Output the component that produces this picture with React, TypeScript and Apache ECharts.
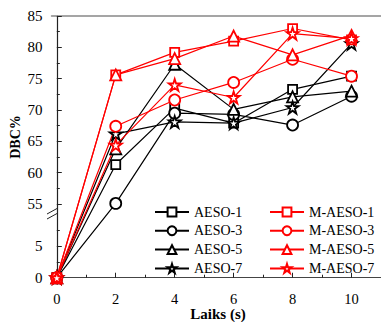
import React, { useEffect, useRef } from "react";
import * as echarts from "echarts";

const times = [0, 2, 4, 6, 8, 10];
const aeso1 = [0, 61.3, 70.3, 67.9, 73.3, 75.4];
const aeso3 = [0, 55.1, 69.5, 69.3, 67.6, 72.2];
const aeso5 = [0, 63.8, 77.3, 70.1, 72.1, 73.0];
const aeso7 = [0, 66.2, 68.1, 67.9, 70.4, 80.6];
const maeso1 = [0, 75.6, 79.2, 81.0, 83.0, 81.2];
const maeso3 = [0, 67.4, 71.6, 74.4, 78.1, 75.4];
const maeso5 = [0, 75.6, 78.2, 81.8, 78.8, 81.9];
const maeso7 = [0, 64.4, 74.0, 72.0, 82.2, 81.4];
const yTicks = [0, 5, 55, 60, 65, 70, 75, 80, 85];
const yMinor = [2.5, 7.5, 57.5, 62.5, 67.5, 72.5, 77.5, 82.5];
const xTicks = [0, 2, 4, 6, 8, 10];
const xMinor = [1, 3, 5, 7, 9];

// broken y-axis: values >= 30 are shifted down
const OFFSET = 43.24;
const tr = (v: number) => (v >= 30 ? v - OFFSET : v);
const inv = (v: number) => (v > 10 ? Math.round(v + OFFSET) : Math.round(v));

const STAR =
  "path://M50,2 L61,36 L97,36 L68,57 L79,92 L50,71 L21,92 L32,57 L3,36 L39,36 Z";
const FONT = "Liberation Serif";

export default function App() {
  const ref = useRef<HTMLDivElement>(null);
  useEffect(() => {
    if (!ref.current) return;
    const chart = echarts.init(ref.current, undefined, { renderer: "svg" });
    const mk = (name: string, data: number[], color: string, symbol: string, size: number) => ({
      name,
      type: "line",
      data: data.map((v, i) => [times[i], tr(v)]),
      symbol,
      symbolSize: size,
      showAllSymbol: true,
      lineStyle: { color, width: 1.2 },
      itemStyle: { color: "#fff", borderColor: color, borderWidth: 1.8 },
      emphasis: { disabled: true },
      xAxisIndex: 0,
      yAxisIndex: 0,
    });
    const series = [
      mk("AESO-1", aeso1, "#000", "rect", 9),
      mk("AESO-3", aeso3, "#000", "circle", 11),
      mk("AESO-5", aeso5, "#000", "triangle", 11),
      mk("AESO-7", aeso7, "#000", STAR, 12),
      mk("M-AESO-1", maeso1, "#ff0000", "rect", 9),
      mk("M-AESO-3", maeso3, "#ff0000", "circle", 11),
      mk("M-AESO-5", maeso5, "#ff0000", "triangle", 11),
      mk("M-AESO-7", maeso7, "#ff0000", STAR, 12),
    ];
    const legendBase = {
      orient: "vertical",
      top: 205,
      padding: 0,
      itemWidth: 34,
      itemHeight: 11,
      itemGap: 4.8,
      textStyle: { fontFamily: FONT, fontSize: 14, color: "#000", lineHeight: 14 },
      selectedMode: false,
    };
    chart.setOption({
      animation: false,
      grid: { left: 51.5, right: -3.6, top: 16, bottom: 38, containLabel: false },
      xAxis: [
        {
          type: "value",
          min: -0.18,
          max: 11,
          axisLine: { show: true, lineStyle: { color: "#444", width: 1.2 } },
          axisTick: { show: true, inside: true, length: 5, customValues: xTicks, lineStyle: { color: "#222" } },
          axisLabel: { customValues: xTicks, fontFamily: FONT, fontSize: 14.5, color: "#000", margin: 7 },
          splitLine: { show: false },
        },
        {
          type: "value",
          min: -0.18,
          max: 11,
          position: "bottom",
          axisLine: { show: false },
          axisTick: { show: true, inside: true, length: 3, customValues: xMinor, lineStyle: { color: "#222" } },
          axisLabel: { show: false },
          splitLine: { show: false },
        },
        {
          type: "value",
          min: -0.18,
          max: 11,
          position: "top",
          axisLine: { show: true, lineStyle: { color: "#888", width: 1.5 } },
          axisTick: { show: false },
          axisLabel: { show: false },
          splitLine: { show: false },
        },
      ],
      yAxis: [
        {
          type: "value",
          min: -1,
          max: tr(85),
          axisLine: { show: true, lineStyle: { color: "#222", width: 1.2 } },
          axisTick: { show: true, inside: true, length: 5, customValues: yTicks.map(tr), lineStyle: { color: "#222" } },
          axisLabel: {
            customValues: yTicks.map(tr),
            formatter: (v: number) => String(inv(v)),
            fontFamily: FONT,
            fontSize: 15,
            color: "#000",
            margin: 9,
          },
          splitLine: { show: false },
        },
        {
          type: "value",
          min: -1,
          max: tr(85),
          position: "left",
          axisLine: { show: false },
          axisTick: { show: true, inside: true, length: 3, customValues: yMinor.map(tr), lineStyle: { color: "#222" } },
          axisLabel: { show: false },
          splitLine: { show: false },
        },
      ],
      legend: [
        { ...legendBase, left: 154, data: ["AESO-1", "AESO-3", "AESO-5", "AESO-7"] },
        { ...legendBase, left: 269, data: ["M-AESO-1", "M-AESO-3", "M-AESO-5", "M-AESO-7"] },
      ],
      series,
      graphic: [
        { type: "rect", shape: { x: 49, y: 209.5, width: 6, height: 6 }, style: { fill: "#fff" }, z: 100 },
        { type: "line", shape: { x1: 47, y1: 214, x2: 57, y2: 208.5 }, style: { stroke: "#222", lineWidth: 1 }, z: 101 },
        { type: "line", shape: { x1: 47, y1: 219, x2: 57, y2: 213.5 }, style: { stroke: "#222", lineWidth: 1 }, z: 101 },
        {
          type: "text",
          x: 15.5,
          y: 137,
          rotation: Math.PI / 2,
          style: {
            text: "DBC%",
            font: `bold 14px ${FONT}`,
            fill: "#000",
            textAlign: "center",
            textVerticalAlign: "middle",
          },
        },
        {
          type: "text",
          x: 218,
          y: 313.5,
          style: {
            text: "Laiks (s)",
            font: `bold 15px ${FONT}`,
            fill: "#000",
            textAlign: "center",
            textVerticalAlign: "middle",
          },
        },
      ],
    });
    return () => chart.dispose();
  }, []);
  return <div ref={ref} style={{ width: 381, height: 322, position: "absolute", left: 0, top: 0 }} />;
}
